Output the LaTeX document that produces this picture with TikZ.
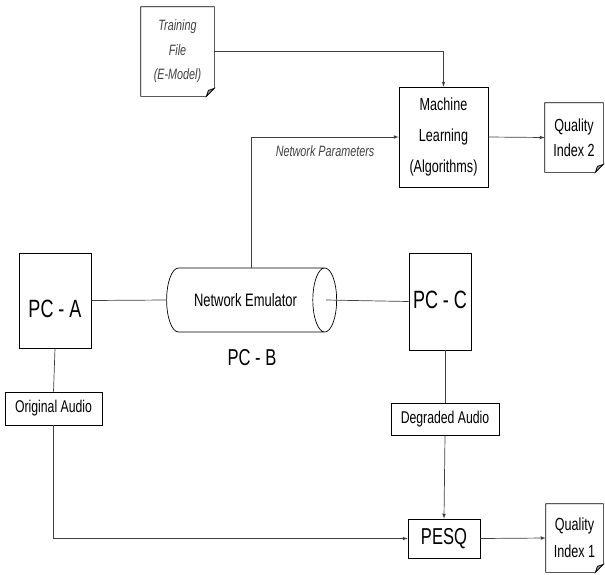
\documentclass[tikz,border=0pt]{standalone}
\usepackage{fontspec}
\setmainfont{Liberation Sans}[FakeStretch=0.72]
\usetikzlibrary{shapes.geometric}

\tikzset{
  block/.style={draw=black, rectangle, inner sep=0pt, align=center},
  note/.style={rectangle, inner sep=0pt, align=center},
  wire/.style={draw=black!75},
  big/.style={font=\fontsize{25}{30}\selectfont},
  mid/.style={font=\fontsize{17.5}{31}\selectfont},
  small/.style={font=\fontsize{15}{24.5}\selectfont\itshape, text=black!75},
}

\begin{document}
\begin{tikzpicture}[x=1pt, y=-1pt, >=latex, line width=0.7pt]
  \useasboundingbox (0,0) rectangle (605,574);

  % documents
  \node[note, small, minimum width=73pt, minimum height=89pt] (train) at (177.5,51.5) {Training\\File\\(E-Model)};
  \node[note, mid, font=\fontsize{17.5}{25}\selectfont, minimum width=58pt, minimum height=69pt] (qi2) at (574,137.5) {Quality\\Index 2};
  \node[note, mid, font=\fontsize{17.5}{27}\selectfont, minimum width=57pt, minimum height=68pt] (qi1) at (574.5,538) {Quality\\Index 1};
  \foreach \n in {train,qi2,qi1}{
    \draw (\n.north west) -- (\n.north east) -- ([yshift=8pt]\n.south east) -- ([xshift=-8pt]\n.south east) -- (\n.south west) -- cycle;
    \filldraw[fill=black!40] ([yshift=8pt]\n.south east) -- ([xshift=-8pt]\n.south east) -- ([xshift=-6pt,yshift=6pt]\n.south east) -- cycle;
  }

  % blocks
  \node[block, mid, minimum width=89pt, minimum height=100pt] (ml) at (443.5,137) {Machine\\Learning\\(Algorithms)};
  \node[cylinder, draw, shape aspect=1.8, minimum width=64pt, minimum height=170pt, inner sep=0pt, font=\fontsize{18}{22}\selectfont] (emu) at (245.5,300) {Network Emulator};
  \node[block, minimum width=72pt, minimum height=95pt, label={[big, yshift=-8pt]center:PC - A}] (pca) at (55,300.5) {};
  \node[block, minimum width=62pt, minimum height=97pt, label={[big, yshift=2pt]center:PC - C}] (pcc) at (440,301.5) {};
  \node[big, font=\fontsize{23}{28}\selectfont] (pcb) at (252,358) {PC - B};
  \node[block, font=\fontsize{17}{20}\selectfont, minimum width=97pt, minimum height=33pt] (orig) at (53.5,408.5) {Original Audio};
  \node[block, font=\fontsize{17}{20}\selectfont, minimum width=108pt, minimum height=32pt] (deg) at (445,419) {Degraded Audio};
  \node[block, font=\fontsize{23}{28}\selectfont, minimum width=72pt, minimum height=39pt] (pesq) at (444,538.5) {PESQ};

  % connectors
  \draw[wire, ->] (train.east) -| (ml.north);
  \draw[wire, ->] ([xshift=6pt]emu.north) |- node[pos=0.75, below=5pt, small, font=\fontsize{15}{17}\selectfont\itshape] {Network Parameters} (ml.west);
  \draw[wire, ->] (ml.east) -- (qi2.west);
  \draw[wire] (pca.east) -- (emu.west);
  \draw[wire] ([xshift=-11pt]emu.east) -- (pcc.west);
  \draw[wire] (pca.south) -- (orig.north);
  \draw[wire, ->] (orig.south) |- (pesq.west);
  \draw[wire] (pcc.south -| deg.north) -- (deg.north);
  \draw[wire, ->] (deg.south) -- (pesq.north);
  \draw[wire, ->] (pesq.east) -- (qi1.west);
\end{tikzpicture}
\end{document}
